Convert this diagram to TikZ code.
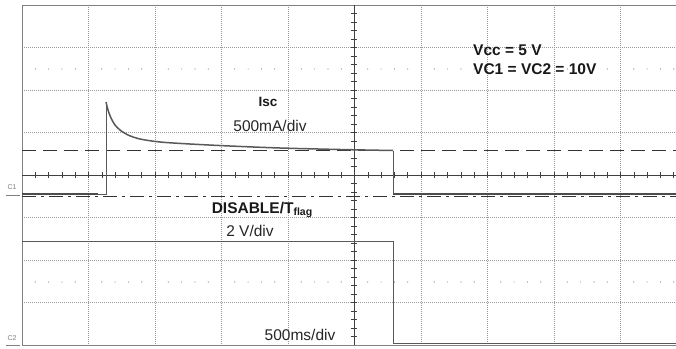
\documentclass[tikz,border=0pt]{standalone}
\usepackage{fontspec}
\setmainfont{Liberation Sans}
\tikzset{
  gridline/.style={gray!80, line width=0.5pt, dash pattern=on 1pt off 1pt},
  frameline/.style={gray, line width=0.8pt},
  axisline/.style={black!75, line width=0.6pt},
  trace/.style={black!65, line width=1pt},
  noisy/.style={black!70, line width=2.5pt},
  chlabel/.style={font=\fontsize{7}{8}\selectfont, text=gray, inner sep=0pt},
  bigtext/.style={font=\fontsize{15.5}{18}\selectfont, text=black!85, inner sep=0pt},
  boldtext/.style={font=\bfseries\fontsize{15.5}{19}\selectfont, text=black!90, inner sep=0pt}
}
\begin{document}
\begin{tikzpicture}[x=1pt,y=-1pt]
\useasboundingbox (0,0) rectangle (676,348);
\fill[white] (0,0) rectangle (676,348);
% grid
\foreach \k in {1,...,9} \draw[gridline] (22+66.5*\k,5) -- (22+66.5*\k,345);
\foreach \k in {1,...,7} \draw[gridline] (22,5+42.5*\k) -- (676,5+42.5*\k);
\foreach \k in {1,...,49} {
  \pgfmathtruncatemacro{\r}{mod(\k,5)}
  \ifnum\r>0
    \fill[gray] (22+13.3*\k,69) circle (0.6);
    \fill[gray] (22+13.3*\k,282) circle (0.6);
  \fi
}
% frame and axes
\draw[frameline] (676,5) -- (22,5) -- (22,345) -- (676,345);
\draw[axisline] (22,175) -- (676,175);
\draw[axisline] (354,5) -- (354,345);
\foreach \k in {1,...,49} \draw[axisline] (22+13.3*\k,172) -- (22+13.3*\k,178);
\foreach \k in {1,...,39} \draw[axisline] (351,5+8.5*\k) -- (357,5+8.5*\k);
% reference levels
\draw[black!80, line width=0.8pt, dash pattern=on 14pt off 7pt] (22,150) -- (676,150);
\draw[black!80, line width=0.8pt, dash pattern=on 14pt off 5pt on 3pt off 5pt] (22,196) -- (676,196);
% channel 1 (Isc)
\draw[noisy] (22,194) -- (98,194);
\draw[trace] (98,194) -- (106,194) -- (106,102);
\draw[trace, line width=1.5pt] plot[smooth] coordinates {(106,102) (108,110) (111,118) (115,125)
  (120,130) (128,135) (140,139) (160,142) (190,144) (230,146) (280,148) (340,149.5) (393,150.5)};
\draw[trace] (393,150.5) -- (393,194);
\draw[noisy] (393,194) -- (676,194);
% channel 2 (DISABLE/Tflag)
\draw[trace] (22,241) -- (393,241) -- (393,343) -- (676,343);
% channel markers
\node[chlabel] (c1) at (12,187) {C1};
\draw[gray, line width=1pt] (6,195) -- (20,195);
\node[chlabel] (c2) at (12,338) {C2};
\draw[gray, line width=1pt] (6,345) -- (20,345);
% labels
\node[boldtext, font=\bfseries\fontsize{13.5}{16}\selectfont] (isc) at (268,102) {Isc};
\node[bigtext] (iscdiv) at (270,126) {500mA/div};
\node[boldtext, anchor=west, align=left] (supply) at (473,59.5) {Vcc = 5 V\\VC1 = VC2 = 10V};
\node[boldtext] (dis) at (262,210) {DISABLE/T{\fontsize{10.5}{12}\selectfont\raisebox{-2pt}{flag}}};
\node[bigtext] (disdiv) at (250,231) {2 V/div};
\node[bigtext] (timediv) at (300,335) {500ms/div};
\end{tikzpicture}
\end{document}
